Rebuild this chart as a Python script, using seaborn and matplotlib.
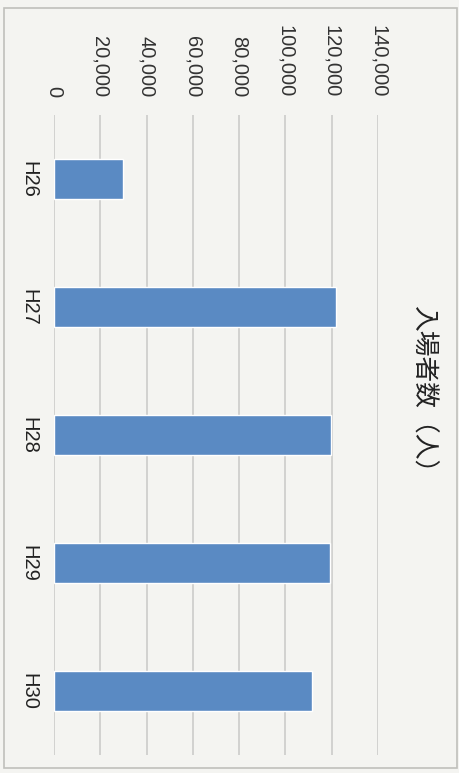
import matplotlib
matplotlib.use('Agg')
import matplotlib.pyplot as plt
import matplotlib.patches as patches
import seaborn as sns
from matplotlib.ticker import FuncFormatter

# データ（入場者数）
categories = ['H26', 'H27', 'H28', 'H29', 'H30']
visitors = [30000, 122000, 119600, 119200, 111400]
title_text = '入場者数（人）'

sns.set_style('white')
plt.rcParams['font.family'] = ['Liberation Sans', 'DejaVu Sans']

paper = '#f4f4f1'
fig = plt.figure(figsize=(4.59, 7.73), dpi=100, facecolor=paper)
ax = fig.add_axes([54 / 459, 1 - 755 / 773, (378 - 54) / 459, (755 - 115) / 773])
ax.set_facecolor(paper)

sns.barplot(x=visitors, y=categories, orient='h', color='#5a8ac3',
            saturation=1, width=0.31, ax=ax, zorder=3)

ax.set_xlim(0, 140000)
ax.set_xticks(range(0, 140001, 20000))
ax.xaxis.set_major_formatter(FuncFormatter(lambda v, p: f'{int(v):,}'))
ax.xaxis.tick_top()
ax.grid(axis='x', color='#c8c8c6', linewidth=1.1, zorder=0)
ax.tick_params(axis='x', length=0, pad=13, labelsize=14.5, colors='#333333')
ax.tick_params(axis='y', length=0, pad=11.5, labelsize=14.5, colors='#222222')
for lbl in ax.get_xticklabels():
    lbl.set_rotation(-90)
    lbl.set_va('bottom')
    lbl.set_ha('center')
for lbl in ax.get_yticklabels():
    lbl.set_rotation(-90)
    lbl.set_ha('right')
    lbl.set_va('center')
for s in ax.spines.values():
    s.set_visible(False)
ax.set_xlabel('')
ax.set_ylabel('')

# グラフタイトル（縦書き風に回転）
fig.text(423 / 459, 1 - 395 / 773, title_text, rotation=-90, fontsize=18.5,
         family=['Noto Sans CJK JP', 'DejaVu Sans'], color='#222222',
         ha='center', va='center')

# 外枠
fig.patches.append(patches.Rectangle((4 / 459, 1 - 768 / 773), 453 / 459, 760 / 773,
                                     transform=fig.transFigure, fill=False,
                                     edgecolor='#c0c0bc', linewidth=1.2))

fig.savefig('out.png', dpi=100, facecolor=paper)
